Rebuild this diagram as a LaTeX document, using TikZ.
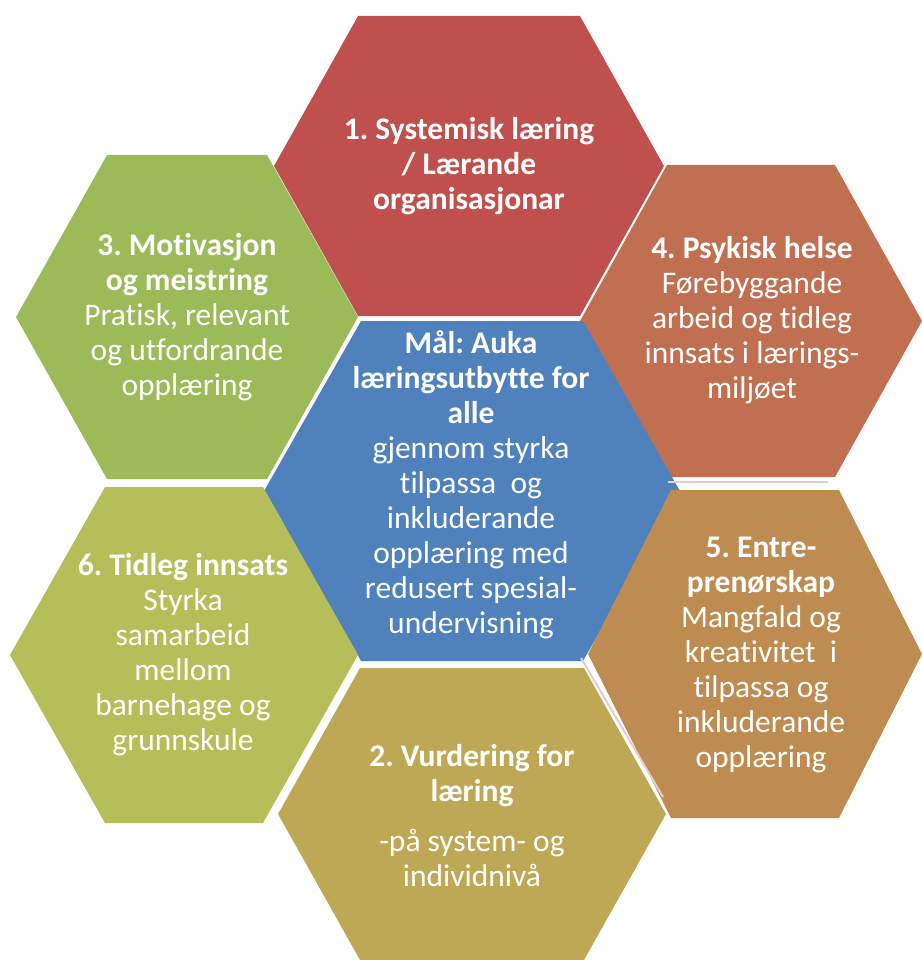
\documentclass[tikz,border=0pt]{standalone}
\usepackage{fontspec}
\setmainfont{Carlito}[RawFeature={-liga;-clig;-dlig;-calt}]
\usepackage{tikz}
\frenchspacing
\definecolor{hexred}{RGB}{192,80,77}
\definecolor{hexblue}{RGB}{79,129,189}
\definecolor{hexgreen}{RGB}{155,187,89}
\definecolor{hexorange}{RGB}{192,111,80}
\definecolor{hexbrown}{RGB}{190,140,80}
\definecolor{hexolive}{RGB}{190,168,85}
\definecolor{hexlime}{RGB}{182,190,90}
\definecolor{shadowpink}{RGB}{228,204,208}
\def\hexa[#1](#2,#3)(#4:#5:#6){\fill[#1] (#2-#4,#3) -- (#2-#5,#3-#6) -- (#2+#5,#3-#6) -- (#2+#4,#3) -- (#2+#5,#3+#6) -- (#2-#5,#3+#6) -- cycle;}
\tikzset{hextext/.style={text=white, align=center, inner sep=0pt, font=\fontsize{31.5}{35}\selectfont}}

\begin{document}
\begin{tikzpicture}[x=1pt,y=-1pt]
				\useasboundingbox (0,0) rectangle (921,960);
				
				\hexa[hexred](469,166)(195:111:150)
				\hexa[hexgreen](187,317)(171:80:162)
				\hexa[hexorange](751,321)(171:84:156)
				\hexa[hexblue](472,491)(208:111:170)
				\hexa[hexlime](184,655)(174:79:168)
				\hexa[hexbrown](755,654)(167:84:164)
				\hexa[hexolive](472,814)(194:112:146)
				
				\draw[shadowpink, line width=2] (668,482) -- (828,482);
				\draw[shadowpink, line width=2] (581,658) -- (663,797);
				
				\node[hextext] (systemisk) at (469,166) {\textbf{1. Systemisk læring}\\\textbf{/ Lærande}\\\textbf{organisasjonar}};
				\node[hextext] (motivasjon) at (187,317) {\textbf{3. Motivasjon}\\\textbf{og meistring}\\Pratisk, relevant\\og utfordrande\\opplæring};
				\node[hextext] (psykisk) at (752,320) {\textbf{4. Psykisk helse}\\Førebyggande\\arbeid og tidleg\\innsats i lærings-\\miljøet};
				\node[hextext] (maal) at (471,485) {\textbf{Mål: Auka}\\\textbf{læringsutbytte for}\\\textbf{alle}\\gjennom styrka\\tilpassa~ og\\inkluderande\\opplæring med\\redusert spesial-\\undervisning};
				\node[hextext] (tidleg) at (183,655) {\textbf{6. Tidleg innsats}\\Styrka\\samarbeid\\mellom\\barnehage og\\grunnskule};
				\node[hextext] (entre) at (761,655) {\textbf{5. Entre-}\\\textbf{prenørskap}\\Mangfald og\\kreativitet~ i\\tilpassa og\\inkluderande\\opplæring};
				\node[hextext] (vurdering) at (472,816) {\textbf{2. Vurdering for}\\\textbf{læring}\\[15pt]-på system- og\\individnivå};
			\end{tikzpicture}
\end{document}
